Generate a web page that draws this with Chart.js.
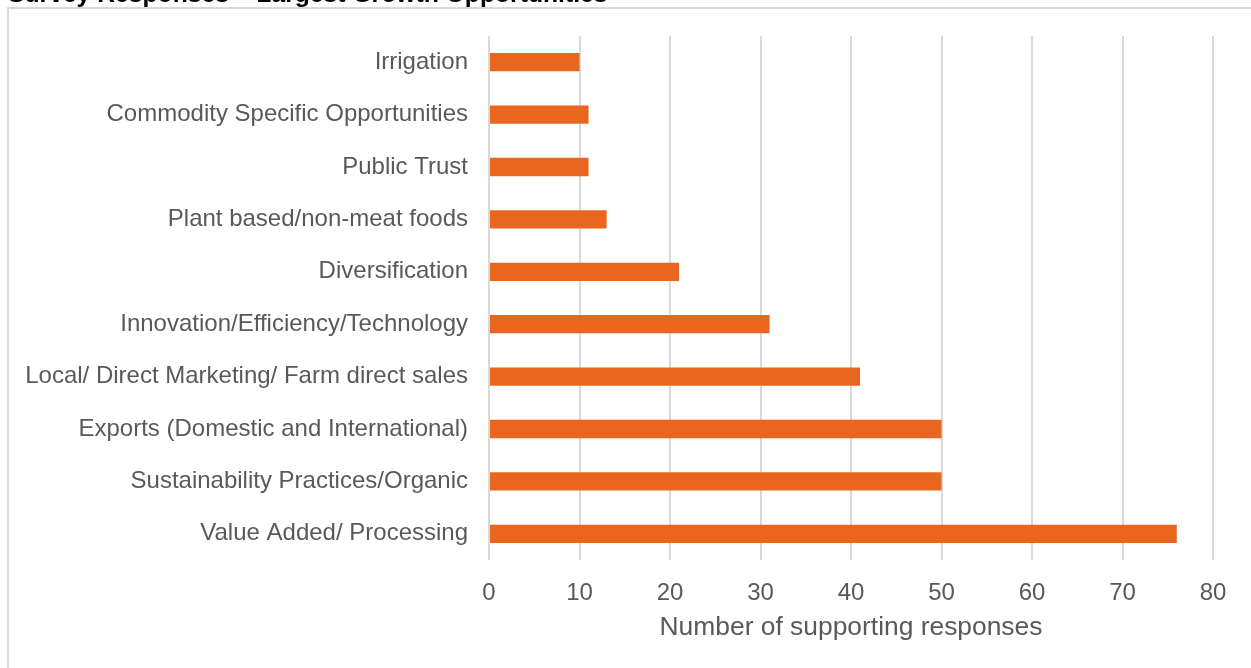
<!DOCTYPE html>
<html>
<head>
<meta charset="utf-8">
<script src="https://cdn.jsdelivr.net/npm/chart.js@4/dist/chart.umd.min.js"></script>
<style>
  html, body { margin: 0; padding: 0; background: #fff; overflow: hidden; }
  #wrap { position: relative; width: 1251px; height: 668px; }
  #frame { position: absolute; left: 7px; top: 7px; width: 1260px; height: 680px;
           border: 2px solid #d9d9d9; box-sizing: border-box; }
  canvas { position: absolute; left: 0; top: 0; }
</style>
</head>
<body>
<div id="wrap">
  <div id="frame"></div>
  <canvas id="chart" width="1251" height="668"></canvas>
</div>
<script>
const chartTitle = 'Survey Responses \u2013 Largest Growth Opportunities';
const categories = [
  'Irrigation',
  'Commodity Specific Opportunities',
  'Public Trust',
  'Plant based/non-meat foods',
  'Diversification',
  'Innovation/Efficiency/Technology',
  'Local/ Direct Marketing/ Farm direct sales',
  'Exports (Domestic and International)',
  'Sustainability Practices/Organic',
  'Value Added/ Processing'
];
const responses = [10, 11, 11, 13, 21, 31, 41, 50, 50, 76];
const axisTitle = 'Number of supporting responses';
const axisMin = 0;
const axisMax = 80;
const axisStep = 10;

const FONT = '"Liberation Sans", Arial, sans-serif';
const TEXT = '#595959';

// Heading sits above the frame, partly clipped by the page edge
const headingPlugin = {
  id: 'heading',
  afterDraw(chart) {
    const ctx = chart.ctx;
    ctx.save();
    ctx.font = 'bold 24.7px ' + FONT;
    ctx.fillStyle = '#000';
    ctx.textAlign = 'left';
    ctx.textBaseline = 'alphabetic';
    ctx.fillText(chartTitle, 8, 2);
    ctx.restore();
  }
};

new Chart(document.getElementById('chart'), {
  type: 'bar',
  data: {
    labels: categories,
    datasets: [{
      data: responses,
      backgroundColor: '#E8661F',
      borderWidth: 0,
      barPercentage: 0.35,
      categoryPercentage: 1.0
    }]
  },
  options: {
    indexAxis: 'y',
    responsive: false,
    animation: false,
    layout: { padding: { top: 36, right: 38, bottom: 0, left: 0 } },
    plugins: {
      legend: { display: false },
      tooltip: { enabled: false }
    },
    scales: {
      x: {
        min: axisMin,
        max: axisMax,
        ticks: {
          stepSize: axisStep,
          color: TEXT,
          font: { family: FONT, size: 24 },
          padding: 19
        },
        grid: { color: '#d9d9d9', lineWidth: 2, drawTicks: false },
        border: { display: false },
        title: {
          display: true,
          text: axisTitle,
          color: TEXT,
          font: { family: FONT, size: 26.4 },
          padding: { top: 0, bottom: 24 }
        },
        afterFit(scale) { scale.height = 108; }
      },
      y: {
        ticks: {
          color: TEXT,
          font: { family: FONT, size: 24 },
          padding: 21
        },
        grid: { display: false, drawTicks: false },
        border: { display: false },
        afterFit(scale) { scale.width = 489; }
      }
    }
  },
  plugins: [headingPlugin]
});
</script>
</body>
</html>
